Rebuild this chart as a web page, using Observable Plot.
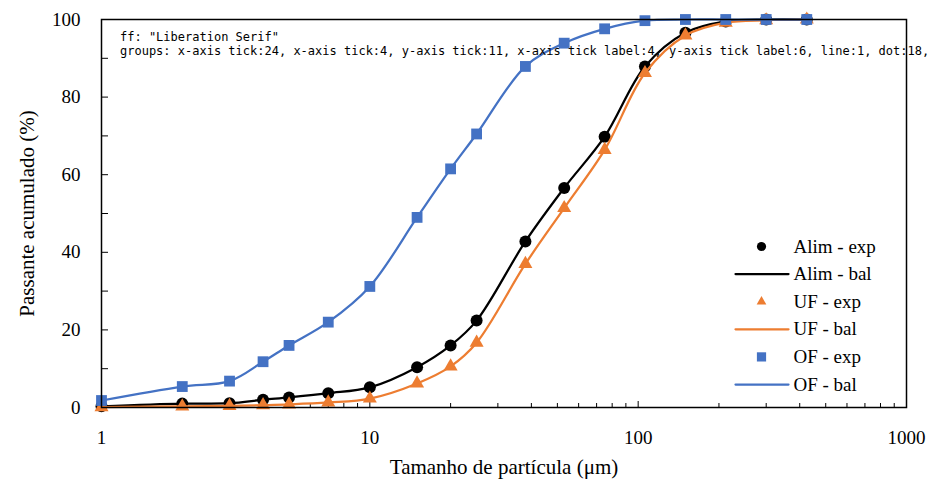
<!DOCTYPE html>
<html>
<head>
<meta charset="utf-8">
<script src="https://cdn.jsdelivr.net/npm/d3@7"></script>
<script src="https://cdn.jsdelivr.net/npm/@observablehq/plot@0.6"></script>
<style>
  body { margin: 0; background: #fff; }
  #wrap { position: relative; width: 932px; height: 491px; background: #fff; }
  #dbg { position: absolute; left: 120px; top: 30px; font: 12px monospace; white-space: pre; }
</style>
</head>
<body>
<div id="wrap"><div id="dbg"></div></div>
<script>
const sizes   = [1, 2, 3, 4, 5, 7, 10, 15, 20, 25, 38, 53, 75, 106, 150, 212, 300, 425];
const alimExp = [0.3, 1.0, 1.1, 2.0, 2.6, 3.7, 5.2, 10.4, 16.0, 22.4, 42.8, 56.6, 69.8, 87.9, 96.6, 99.5, 100, 100];
const alimBal = [0.3, 1.0, 1.1, 2.0, 2.6, 3.7, 5.2, 10.4, 16.0, 22.4, 42.8, 56.6, 69.8, 87.9, 96.6, 99.5, 100, 100];
const ufExp   = [0.1, 0.3, 0.4, 0.6, 0.8, 1.3, 2.3, 6.2, 10.6, 16.7, 37.0, 51.4, 66.4, 86.2, 95.9, 99.2, 99.8, 100];
const ufBal   = [0.1, 0.3, 0.4, 0.6, 0.8, 1.3, 2.3, 6.2, 10.6, 16.7, 37.0, 51.4, 66.4, 86.2, 95.9, 99.2, 99.8, 100];
const ofExp   = [1.8, 5.4, 6.8, 11.8, 16.0, 22.0, 31.2, 49.0, 61.5, 70.5, 87.9, 93.9, 97.6, 99.7, 100, 100, 100, 100];
const ofBal   = [1.8, 5.4, 6.8, 11.8, 16.0, 22.0, 31.2, 49.0, 61.5, 70.5, 87.9, 93.9, 97.6, 99.7, 100, 100, 100, 100];

const xMajor = [1, 10, 100, 1000];
const xMinor = [2, 3, 4, 5, 6, 7, 8, 9, 20, 30, 40, 50, 60, 70, 80, 90, 200, 300, 400, 500, 600, 700, 800, 900];
const yLabels = [0, 20, 40, 60, 80, 100];
const yTicks = [0, 10, 20, 30, 40, 50, 60, 70, 80, 90, 100];

const BLACK = "#000000", ORANGE = "#ED7D31", BLUE = "#4472C4";
const FONT = "Liberation Serif";
const W = 932, H = 491, ML = 101, MR = 26, MT = 19, MB = 84;
const frameW = W - ML - MR, frameH = H - MT - MB;
const table = (vals) => sizes.map((s, i) => ({x: s, y: vals[i]}));

const series = [
  {name: "Alim - exp", type: "dot", data: alimExp, color: BLACK, symbol: "circle", r: 6, lr: 4.6},
  {name: "Alim - bal", type: "line", data: alimBal, color: BLACK},
  {name: "UF - exp", type: "dot", data: ufExp, color: ORANGE, symbol: "triangle", r: 5.2, lr: 3.6},
  {name: "UF - bal", type: "line", data: ufBal, color: ORANGE},
  {name: "OF - exp", type: "dot", data: ofExp, color: BLUE, symbol: "square", r: 6.1, lr: 5.2},
  {name: "OF - bal", type: "line", data: ofBal, color: BLUE}
];
const dbg = document.getElementById("dbg");
try {
const drawOrder = [1, 0, 3, 2, 5, 4];
const seriesMarks = drawOrder.map(i => {
  const s = series[i];
  return s.type === "line"
    ? Plot.line(table(s.data), {x: "x", y: "y", stroke: s.color, strokeWidth: 2.25, curve: "catmull-rom"})
    : Plot.dot(table(s.data), {x: "x", y: "y", fill: s.color, stroke: "none", symbol: s.symbol, r: s.r});
});
const hSegment = {draw(context, l) { context.moveTo(0, 0); context.lineTo(0, -l); }};
const legendMarks = series.flatMap((s, i) => {
  const dy = 227 + i * 27.6;
  const swatch = s.type === "line"
    ? Plot.vector([s.name], {frameAnchor: "top-left", dx: 634, dy, rotate: 90, length: 53, anchor: "start",
        shape: hSegment, stroke: s.color, strokeWidth: 2.25})
    : Plot.dot([s.name], {frameAnchor: "top-left", dx: 660, dy, symbol: s.symbol, r: s.lr, fill: s.color, stroke: "none"});
  const label = Plot.text([s.name], {text: d => d, frameAnchor: "top-left", dx: 692, dy, textAnchor: "start",
    lineAnchor: "middle", fontSize: 19, fontFamily: FONT, fill: BLACK});
  return [swatch, label];
});
const chart = Plot.plot({
  width: W, height: H, marginLeft: ML, marginRight: MR, marginTop: MT, marginBottom: MB,
  style: {fontFamily: FONT, fontSize: "19px"},
  x: {type: "log", domain: [1, 1000], axis: null},
  y: {domain: [0, 100], axis: null},
  marks: [
    Plot.axisX({anchor: "top", ticks: xMinor, tickSize: 5, dy: frameH, fill: "none", label: null, stroke: BLACK}),
    Plot.axisX({anchor: "top", ticks: xMajor, tickSize: 7, dy: frameH, fill: "none", label: null, stroke: BLACK}),
    Plot.axisY({anchor: "right", ticks: yTicks, tickSize: 6, dx: -frameW, fill: "none", label: null, stroke: BLACK}),
    Plot.axisX({ticks: xMajor, tickSize: 0, tickPadding: 23, tickFormat: d => String(d), label: null, fontFamily: FONT}),
    Plot.axisY({ticks: yLabels, tickSize: 0, tickPadding: 21, tickFormat: d => String(d), label: null, fontFamily: FONT}),
    ...seriesMarks,
    Plot.frame({stroke: BLACK, strokeWidth: 1.5}),
    ...legendMarks,
    Plot.text(["Tamanho de partícula (μm)"], {frameAnchor: "bottom", dy: 60, lineAnchor: "middle", textAnchor: "middle", fontSize: 21, fontFamily: FONT}),
    Plot.text(["Passante acumulado (%)"], {frameAnchor: "left", dx: -74, rotate: -90, lineAnchor: "middle", textAnchor: "middle", fontSize: 21, fontFamily: FONT})
  ]
});
const wrap = document.getElementById("wrap");
wrap.insertBefore(chart, wrap.firstChild);
const t = chart.querySelector("text");
dbg.textContent = "ff: " + (t ? getComputedStyle(t).fontFamily : "none") + "\n" +
  "groups: " + [...chart.querySelectorAll("g[aria-label]")].map(g => g.getAttribute("aria-label") + ":" + g.childElementCount).join(", ").slice(0, 110);
} catch (e) { dbg.textContent = "ERR " + e.message; }
</script>
</body>
</html>
